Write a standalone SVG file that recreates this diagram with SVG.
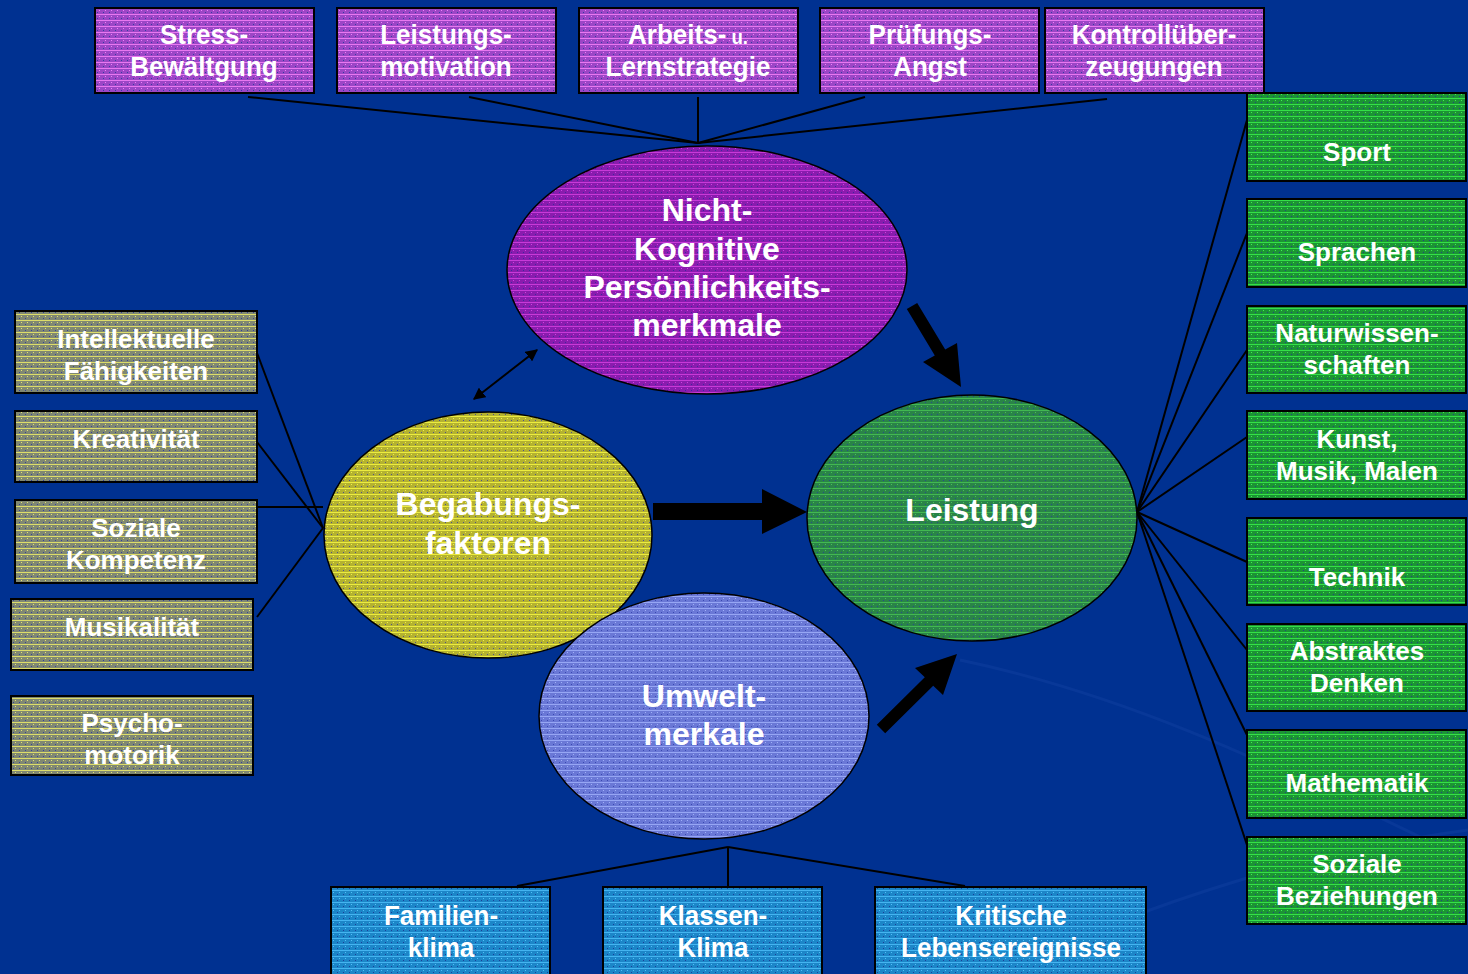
<svg xmlns="http://www.w3.org/2000/svg" width="1468" height="974" viewBox="0 0 1468 974">
<defs>
<style>
.box{stroke:#000;stroke-width:2}
.ell{stroke:#000;stroke-width:1.5}
.t{font-family:"Liberation Sans",Arial,sans-serif;font-weight:bold;fill:#fff;text-anchor:middle}
.n{font-size:28px}
.m{font-size:26px}
.e{font-size:32px}
.ln{stroke:#000;stroke-width:2;fill:none}
.arr{fill:#000}
</style>
<pattern id="pPur" width="6" height="6" patternUnits="userSpaceOnUse"><rect width="6" height="6" fill="#9c46c6"/><rect y="2" width="6" height="1" fill="#e878f0"/><rect x="3" y="4" width="1" height="1" fill="#f080f8"/><rect x="1" y="0" width="1" height="1" fill="#3040a0"/></pattern>
<pattern id="pPurE" width="6" height="6" patternUnits="userSpaceOnUse"><rect width="6" height="6" fill="#8a1cae"/><rect y="2" width="6" height="1" fill="#c83ad8"/><rect x="3" y="4" width="1" height="1" fill="#d040e0"/><rect x="1" y="0" width="1" height="1" fill="#3a2aa0"/></pattern>
<pattern id="pYel" width="6" height="6" patternUnits="userSpaceOnUse"><rect width="6" height="6" fill="#808872"/><rect y="2" width="6" height="1" fill="#dcdc6a"/><rect x="3" y="4" width="1" height="1" fill="#e4e470"/><rect x="1" y="0" width="1" height="1" fill="#30409a"/></pattern>
<pattern id="pYelE" width="6" height="6" patternUnits="userSpaceOnUse"><rect width="6" height="6" fill="#b4b230"/><rect y="2" width="6" height="1" fill="#ecec40"/><rect x="3" y="4" width="1" height="1" fill="#f0f048"/><rect x="1" y="0" width="1" height="1" fill="#4a5090"/></pattern>
<pattern id="pGrn" width="6" height="6" patternUnits="userSpaceOnUse"><rect width="6" height="6" fill="#1c9434"/><rect y="2" width="6" height="1" fill="#34e048"/><rect x="3" y="4" width="1" height="1" fill="#40f050"/><rect x="1" y="0" width="1" height="1" fill="#20408a"/></pattern>
<pattern id="pGrnE" width="6" height="6" patternUnits="userSpaceOnUse"><rect width="6" height="6" fill="#2a8448"/><rect y="2" width="6" height="1" fill="#42b852"/><rect x="3" y="4" width="1" height="1" fill="#48c058"/><rect x="1" y="0" width="1" height="1" fill="#244a90"/></pattern>
<pattern id="pBlu" width="6" height="6" patternUnits="userSpaceOnUse"><rect width="6" height="6" fill="#6a78d6"/><rect y="2" width="6" height="1" fill="#96a6f4"/><rect x="3" y="4" width="1" height="1" fill="#a0b0f8"/><rect x="1" y="0" width="1" height="1" fill="#3848b0"/></pattern>
<pattern id="pCyn" width="6" height="6" patternUnits="userSpaceOnUse"><rect width="6" height="6" fill="#1c86c8"/><rect y="2" width="6" height="1" fill="#44b4f0"/><rect x="3" y="4" width="1" height="1" fill="#50c0f8"/><rect x="1" y="0" width="1" height="1" fill="#1c3c98"/></pattern>
<marker id="mh" viewBox="0 0 10 10" refX="9" refY="5" markerWidth="6" markerHeight="6" orient="auto-start-reverse"><path d="M0,0 L10,5 L0,10 z" fill="#000"/></marker>
</defs>
<rect width="1468" height="974" fill="#003191"/>
<g fill="none" stroke="#1a48a8" stroke-opacity="0.3" stroke-width="3">
<path d="M960,660 C1150,700 1300,780 1468,860"/>
<path d="M1000,974 C1150,900 1320,850 1468,830"/>
</g>

<g id="connectors">
<line class="ln" x1="248" y1="97" x2="698" y2="143"/>
<line class="ln" x1="469" y1="97" x2="698" y2="143"/>
<line class="ln" x1="698" y1="97" x2="698" y2="143"/>
<line class="ln" x1="865" y1="97" x2="698" y2="143"/>
<line class="ln" x1="1107" y1="99" x2="698" y2="143"/>
<line class="ln" x1="257" y1="353" x2="323" y2="528"/>
<line class="ln" x1="257" y1="442" x2="323" y2="528"/>
<line class="ln" x1="257" y1="507" x2="323" y2="507"/>
<line class="ln" x1="257" y1="617" x2="323" y2="528"/>
<line class="ln" x1="1137" y1="512" x2="1247" y2="120"/>
<line class="ln" x1="1137" y1="512" x2="1247" y2="233"/>
<line class="ln" x1="1137" y1="512" x2="1247" y2="350"/>
<line class="ln" x1="1137" y1="512" x2="1247" y2="437"/>
<line class="ln" x1="1137" y1="512" x2="1247" y2="562"/>
<line class="ln" x1="1137" y1="512" x2="1247" y2="650"/>
<line class="ln" x1="1137" y1="512" x2="1247" y2="735"/>
<line class="ln" x1="1137" y1="512" x2="1247" y2="845"/>
<line class="ln" x1="728" y1="847" x2="517" y2="886"/>
<line class="ln" x1="728" y1="847" x2="728" y2="886"/>
<line class="ln" x1="728" y1="847" x2="965" y2="886"/>
<line class="ln" x1="474" y1="399" x2="537" y2="350" marker-start="url(#mh)" marker-end="url(#mh)"/>
<polygon class="arr" points="653,503 762,503 762,489 807,512 762,534 762,520 653,520"/>
<polygon class="arr" points="906.8,309.1 917.2,302.9 945.2,349.4 957,343 961,387 923,362 934.8,355.6"/>
<polygon class="arr" points="876.8,724.7 924.8,677.2 915,668 957,654 943,695 933.2,685.8 885.2,733.3"/>
</g>

<g id="stress"><rect class="box" x="95" y="8" width="219" height="85" fill="url(#pPur)"/>
<text class="t n" transform="translate(204,44) scale(0.93,1)">Stress-</text><text class="t n" transform="translate(204,76) scale(0.93,1)">Bewältgung</text></g>
<g id="leistungsmotivation"><rect class="box" x="337" y="8" width="219" height="85" fill="url(#pPur)"/>
<text class="t n" transform="translate(446,44) scale(0.93,1)">Leistungs-</text><text class="t n" transform="translate(446,76) scale(0.93,1)">motivation</text></g>
<g id="arbeits"><rect class="box" x="579" y="8" width="219" height="85" fill="url(#pPur)"/>
<text class="t n" transform="translate(688,44) scale(0.93,1)">Arbeits-<tspan font-size="20"> u.</tspan></text><text class="t n" transform="translate(688,76) scale(0.93,1)">Lernstrategie</text></g>
<g id="pruefung"><rect class="box" x="820" y="8" width="219" height="85" fill="url(#pPur)"/>
<text class="t n" transform="translate(930,44) scale(0.93,1)">Prüfungs-</text><text class="t n" transform="translate(930,76) scale(0.93,1)">Angst</text></g>
<g id="kontroll"><rect class="box" x="1045" y="8" width="219" height="85" fill="url(#pPur)"/>
<text class="t n" transform="translate(1154,44) scale(0.93,1)">Kontrollüber-</text><text class="t n" transform="translate(1154,76) scale(0.93,1)">zeugungen</text></g>

<g id="intellektuelle"><rect class="box" x="15" y="311" width="242" height="82" fill="url(#pYel)"/>
<text class="t m" x="136" y="348">Intellektuelle</text><text class="t m" x="136" y="380">Fähigkeiten</text></g>
<g id="kreativitaet"><rect class="box" x="15" y="411" width="242" height="71" fill="url(#pYel)"/>
<text class="t m" x="136" y="448">Kreativität</text></g>
<g id="sozialekompetenz"><rect class="box" x="15" y="500" width="242" height="83" fill="url(#pYel)"/>
<text class="t m" x="136" y="537">Soziale</text><text class="t m" x="136" y="569">Kompetenz</text></g>
<g id="musikalitaet"><rect class="box" x="11" y="599" width="242" height="71" fill="url(#pYel)"/>
<text class="t m" x="132" y="636">Musikalität</text></g>
<g id="psychomotorik"><rect class="box" x="11" y="696" width="242" height="79" fill="url(#pYel)"/>
<text class="t m" x="132" y="732">Psycho-</text><text class="t m" x="132" y="764">motorik</text></g>

<g id="sport"><rect class="box" x="1247" y="93" width="219" height="88" fill="url(#pGrn)"/>
<text class="t m" x="1357" y="161">Sport</text></g>
<g id="sprachen"><rect class="box" x="1247" y="199" width="219" height="88" fill="url(#pGrn)"/>
<text class="t m" x="1357" y="261">Sprachen</text></g>
<g id="naturwissenschaften"><rect class="box" x="1247" y="306" width="219" height="87" fill="url(#pGrn)"/>
<text class="t m" x="1357" y="342">Naturwissen-</text><text class="t m" x="1357" y="374">schaften</text></g>
<g id="kunst"><rect class="box" x="1247" y="411" width="219" height="88" fill="url(#pGrn)"/>
<text class="t m" x="1357" y="448">Kunst,</text><text class="t m" x="1357" y="480">Musik, Malen</text></g>
<g id="technik"><rect class="box" x="1247" y="518" width="219" height="87" fill="url(#pGrn)"/>
<text class="t m" x="1357" y="586">Technik</text></g>
<g id="abstraktes"><rect class="box" x="1247" y="624" width="219" height="87" fill="url(#pGrn)"/>
<text class="t m" x="1357" y="660">Abstraktes</text><text class="t m" x="1357" y="692">Denken</text></g>
<g id="mathematik"><rect class="box" x="1247" y="730" width="219" height="88" fill="url(#pGrn)"/>
<text class="t m" x="1357" y="792">Mathematik</text></g>
<g id="sozialebeziehungen"><rect class="box" x="1247" y="837" width="219" height="87" fill="url(#pGrn)"/>
<text class="t m" x="1357" y="873">Soziale</text><text class="t m" x="1357" y="905">Beziehungen</text></g>

<g id="familienklima"><rect class="box" x="331" y="887" width="219" height="95" fill="url(#pCyn)"/>
<text class="t n" transform="translate(441,925) scale(0.93,1)">Familien-</text><text class="t n" transform="translate(441,957) scale(0.93,1)">klima</text></g>
<g id="klassenklima"><rect class="box" x="603" y="887" width="219" height="95" fill="url(#pCyn)"/>
<text class="t n" transform="translate(713,925) scale(0.93,1)">Klassen-</text><text class="t n" transform="translate(713,957) scale(0.93,1)">Klima</text></g>
<g id="kritische"><rect class="box" x="875" y="887" width="271" height="95" fill="url(#pCyn)"/>
<text class="t n" transform="translate(1011,925) scale(0.93,1)">Kritische</text><text class="t n" transform="translate(1011,957) scale(0.93,1)">Lebensereignisse</text></g>

<g id="nichtkognitive"><ellipse class="ell" cx="707" cy="270" rx="200" ry="124" fill="url(#pPurE)"/>
<text class="t e" x="707" y="221">Nicht-</text><text class="t e" x="707" y="260">Kognitive</text><text class="t e" x="707" y="298">Persönlichkeits-</text><text class="t e" x="707" y="336">merkmale</text></g>
<g id="begabung"><ellipse class="ell" cx="488" cy="535" rx="164" ry="123" fill="url(#pYelE)"/>
<text class="t e" x="488" y="515">Begabungs-</text><text class="t e" x="488" y="554">faktoren</text></g>
<g id="leistung"><ellipse class="ell" cx="972" cy="518" rx="165" ry="123" fill="url(#pGrnE)"/>
<text class="t e" x="972" y="521">Leistung</text></g>
<g id="umwelt"><ellipse class="ell" cx="704" cy="716" rx="165" ry="123" fill="url(#pBlu)"/>
<text class="t e" x="704" y="707">Umwelt-</text><text class="t e" x="704" y="745">merkale</text></g>
</svg>
